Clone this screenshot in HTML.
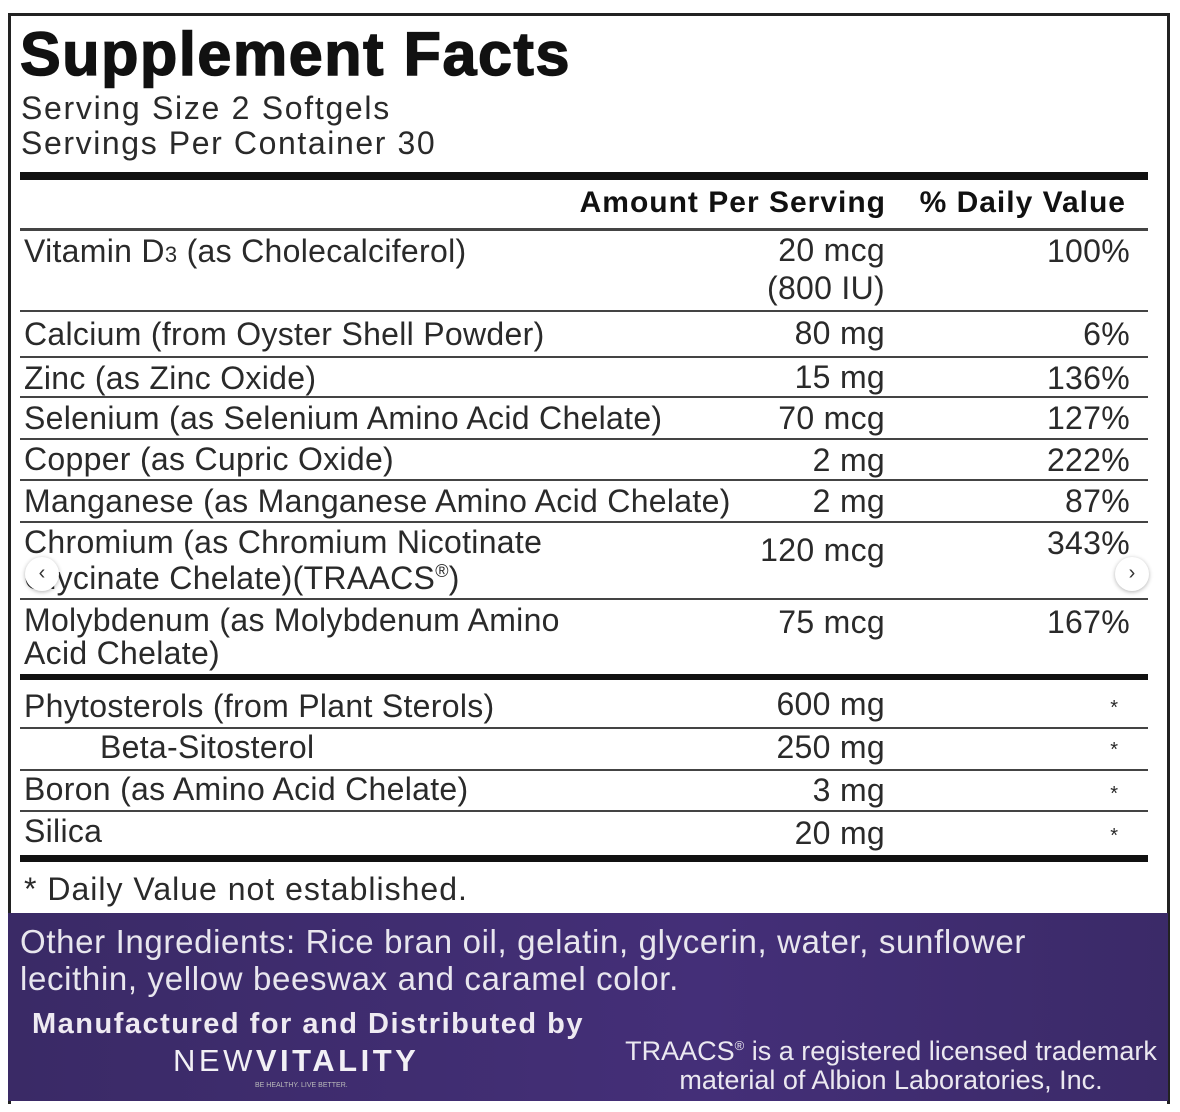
<!DOCTYPE html>
<html><head><meta charset="utf-8"><style>
body{margin:0;width:1180px;height:1112px;background:#fff;position:relative;overflow:hidden;font-family:"Liberation Sans",sans-serif;color:#2a2a2a}
.a{position:absolute;white-space:nowrap;line-height:1}
.t{font-size:32px;letter-spacing:0.3px}
.ln{position:absolute;left:20px;width:1128px;background:#444;height:2px}
.th{background:#111}
.arrow{position:absolute;width:34px;height:34px;border-radius:50%;background:#fff;box-shadow:0 1px 4px rgba(0,0,0,.3);font-size:20px;line-height:32px;text-align:center;color:#333}
.star{font-size:20px}
</style></head><body>
<div style="position:absolute;left:8px;top:13px;width:1156px;height:1088px;border:3px solid #222;border-bottom:none"></div>
<div class="a" style="left:20px;top:24px;font-size:61px;font-weight:bold;color:#111;letter-spacing:1.6px;-webkit-text-stroke:1.5px #111">Supplement Facts</div>
<div class="a" style="left:21px;top:92px;font-size:32px;letter-spacing:1.7px">Serving Size 2 Softgels</div>
<div class="a" style="left:21px;top:127px;font-size:32px;letter-spacing:1.6px">Servings Per Container 30</div>
<div class="ln th" style="top:172px;height:8px"></div>
<div class="a" style="right:294px;top:188px;font-size:30px;font-weight:bold;color:#111;letter-spacing:1px">Amount Per Serving</div>
<div class="a" style="right:54px;top:188px;font-size:30px;font-weight:bold;color:#111;letter-spacing:1px">% Daily Value</div>
<div class="ln" style="top:228px;height:3px"></div>

<div class="a t" style="left:24px;top:235px">Vitamin D<span style="font-size:22px">3</span> (as Cholecalciferol)</div>
<div class="a t" style="right:295px;top:234px">20 mcg</div>
<div class="a t" style="right:295px;top:272px">(800 IU)</div>
<div class="a t" style="right:50px;top:235px">100%</div>
<div class="ln" style="top:310px"></div>

<div class="a t" style="left:24px;top:318px">Calcium (from Oyster Shell Powder)</div>
<div class="a t" style="right:295px;top:317px">80 mg</div>
<div class="a t" style="right:50px;top:318px">6%</div>
<div class="ln" style="top:356px"></div>

<div class="a t" style="left:24px;top:362px">Zinc (as Zinc Oxide)</div>
<div class="a t" style="right:295px;top:361px">15 mg</div>
<div class="a t" style="right:50px;top:362px">136%</div>
<div class="ln" style="top:396px"></div>

<div class="a t" style="left:24px;top:402px">Selenium (as Selenium Amino Acid Chelate)</div>
<div class="a t" style="right:295px;top:402px">70 mcg</div>
<div class="a t" style="right:50px;top:402px">127%</div>
<div class="ln" style="top:438px"></div>

<div class="a t" style="left:24px;top:443px">Copper (as Cupric Oxide)</div>
<div class="a t" style="right:295px;top:444px">2 mg</div>
<div class="a t" style="right:50px;top:444px">222%</div>
<div class="ln" style="top:479px"></div>

<div class="a t" style="left:24px;top:485px">Manganese (as Manganese Amino Acid Chelate)</div>
<div class="a t" style="right:295px;top:485px">2 mg</div>
<div class="a t" style="right:50px;top:485px">87%</div>
<div class="ln" style="top:521px"></div>

<div class="a t" style="left:24px;top:526px">Chromium (as Chromium Nicotinate</div>
<div class="a t" style="left:24px;top:562px">Glycinate Chelate)(TRAACS<span style="font-size:18px;vertical-align:top">®</span>)</div>
<div class="a t" style="right:295px;top:534px">120 mcg</div>
<div class="a t" style="right:50px;top:527px">343%</div>
<div class="ln" style="top:598px"></div>

<div class="a t" style="left:24px;top:604px">Molybdenum (as Molybdenum Amino</div>
<div class="a t" style="left:24px;top:637px">Acid Chelate)</div>
<div class="a t" style="right:295px;top:606px">75 mcg</div>
<div class="a t" style="right:50px;top:606px">167%</div>
<div class="ln th" style="top:674px;height:6px"></div>

<div class="a t" style="left:24px;top:690px">Phytosterols (from Plant Sterols)</div>
<div class="a t" style="right:295px;top:688px">600 mg</div>
<div class="a star" style="right:62px;top:698px">*</div>
<div class="ln" style="top:727px"></div>

<div class="a t" style="left:100px;top:731px">Beta-Sitosterol</div>
<div class="a t" style="right:295px;top:731px">250 mg</div>
<div class="a star" style="right:62px;top:740px">*</div>
<div class="ln" style="top:769px"></div>

<div class="a t" style="left:24px;top:773px">Boron (as Amino Acid Chelate)</div>
<div class="a t" style="right:295px;top:774px">3 mg</div>
<div class="a star" style="right:62px;top:784px">*</div>
<div class="ln" style="top:810px"></div>

<div class="a t" style="left:24px;top:815px">Silica</div>
<div class="a t" style="right:295px;top:817px">20 mg</div>
<div class="a star" style="right:62px;top:826px">*</div>
<div class="ln th" style="top:855px;height:7px"></div>

<div class="a" style="left:24px;top:873px;font-size:32px;letter-spacing:1px">* Daily Value not established.</div>

<div style="position:absolute;left:8px;top:913px;width:1160px;height:188px;background:linear-gradient(90deg,#3a2a66,#442f78 60%,#3b2a68)"></div>
<div class="a" style="left:20px;top:923px;font-size:33px;letter-spacing:0.65px;color:#e8e6ee;line-height:37px">Other Ingredients: Rice bran oil, gelatin, glycerin, water, sunflower<br>lecithin, yellow beeswax and caramel color.</div>
<div class="a" style="left:32px;top:1010px;font-size:29px;letter-spacing:1.5px;font-weight:bold;color:#eeeaf2">Manufactured for and Distributed by</div>
<div class="a" style="left:173px;top:1045px;font-size:31px;color:#f2f0f5;letter-spacing:3.5px">NEW<b>VITALITY</b></div>
<div class="a" style="left:255px;top:1082px;font-size:7px;color:#bbb">BE HEALTHY. LIVE BETTER.</div>
<div class="a" style="left:620px;top:1031px;width:542px;font-size:27px;letter-spacing:0px;color:#ebe8f0;text-align:center;line-height:29px">TRAACS<sup style="font-size:13px">®</sup> is a registered licensed trademark<br>material of Albion Laboratories, Inc.</div>

<div class="arrow" style="left:25px;top:557px">&#8249;</div>
<div class="arrow" style="left:1115px;top:557px">&#8250;</div>
</body></html>
